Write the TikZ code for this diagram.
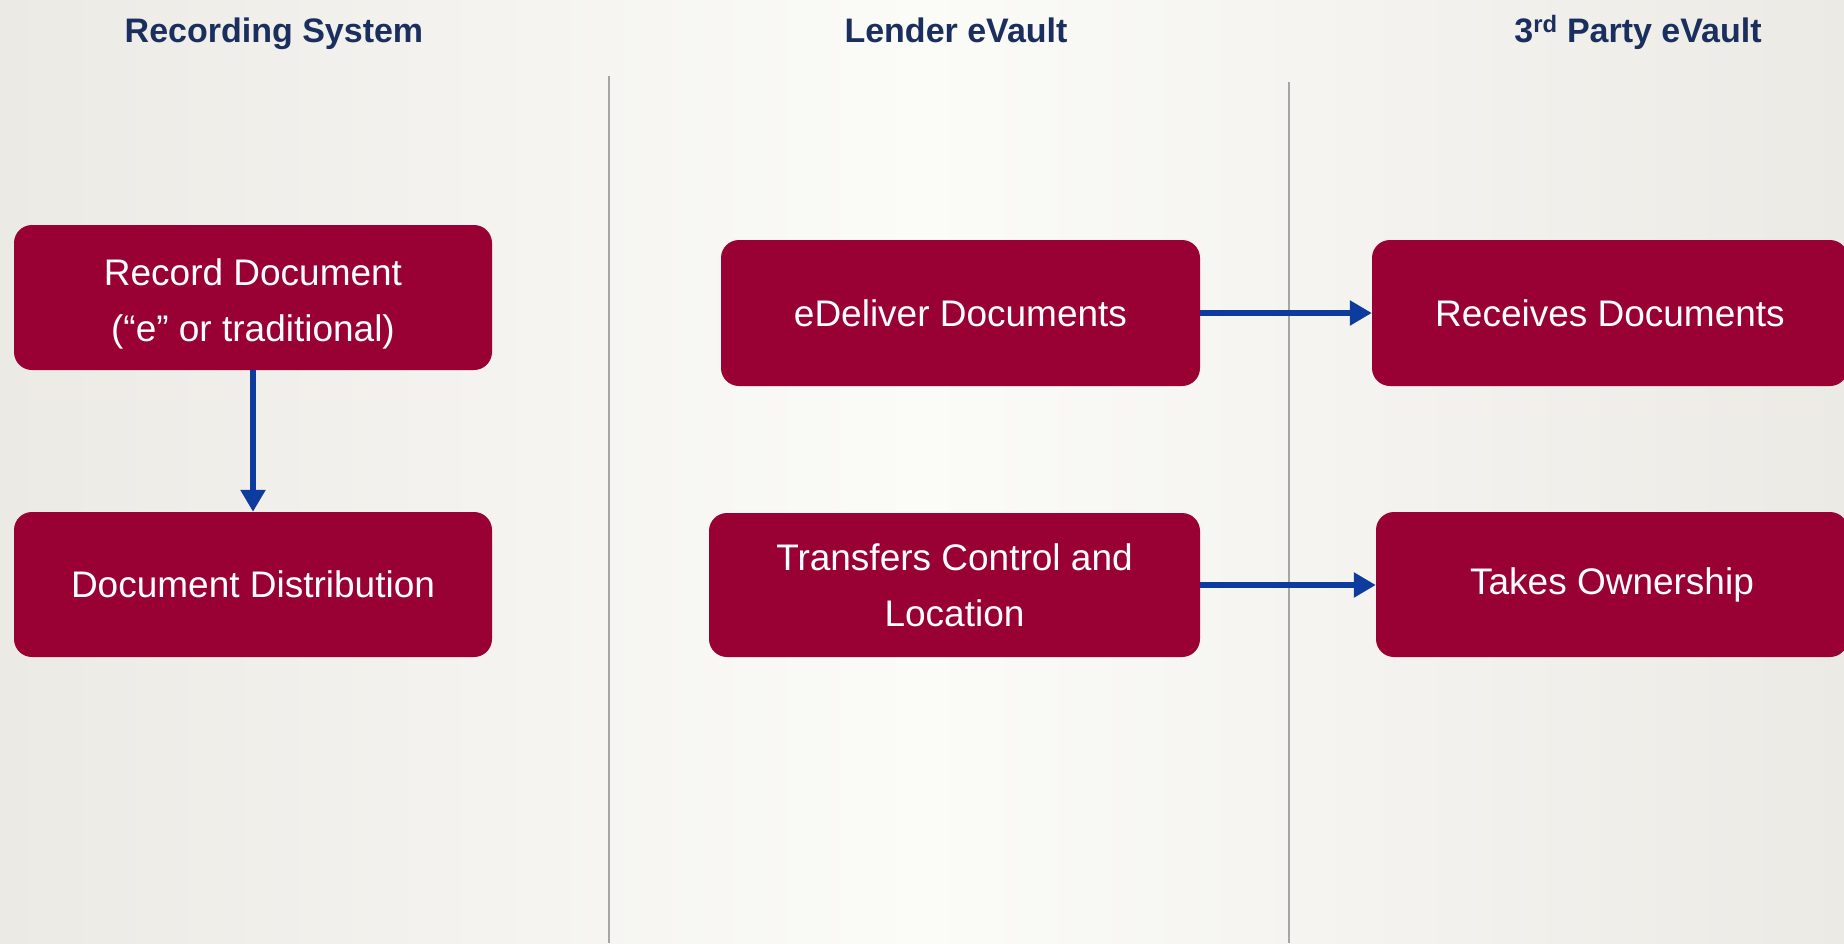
\documentclass[tikz,border=0pt]{standalone}
\usepackage{fontspec}
\setmainfont{Liberation Sans}
\usetikzlibrary{arrows.meta}
\definecolor{boxred}{HTML}{990033}
\definecolor{arrowblue}{HTML}{0D3C9E}
\definecolor{titlenavy}{HTML}{1B2F5E}
\definecolor{bgedge}{HTML}{ECEAE5}
\definecolor{bgmid}{HTML}{FBFBF8}
\definecolor{divider}{HTML}{A5A5A5}
\tikzset{
  procbox/.style={fill=boxred, rounded corners=18pt, text=white, align=center,
    font=\fontsize{37}{56}\selectfont, inner sep=0pt},
  lanetitle/.style={text=titlenavy, font=\fontsize{34}{40}\selectfont\bfseries, inner sep=0pt, anchor=base},
  flow/.style={draw=arrowblue, line width=6.5pt, -{Triangle[length=22pt,width=24pt]}},
  laneline/.style={draw=divider, line width=2pt}
}
\begin{document}
\begin{tikzpicture}[x=1pt,y=-1pt]
\useasboundingbox (0,0) rectangle (1844,943);
\clip (0,0) rectangle (1844,943);
\shade[left color=bgedge, right color=bgmid] (0,0) rectangle (922,943);
\shade[left color=bgmid, right color=bgedge] (922,0) rectangle (1844,943);

% lane titles
\node[lanetitle] (t1) at (274,42) {Recording System};
\node[lanetitle] (t2) at (956,42) {Lender eVault};
\node[lanetitle] (t3) at (1638,42) {3\textsuperscript{rd} Party eVault};

% dividers
\coordinate (l1top) at (609,76);
\coordinate (l1bot) at (609,943);
\coordinate (l2top) at (1289,82);
\coordinate (l2bot) at (1289,943);
\draw[laneline] (l1top) -- (l1bot);
\draw[laneline] (l2top) -- (l2bot);

% boxes
\node[procbox, minimum width=478pt, minimum height=145pt] (rec) at (253,297.5) {\rule{0pt}{40pt}Record Document\\(“e” or traditional)};
\node[procbox, minimum width=478pt, minimum height=145pt] (dist) at (253,584.5) {Document Distribution};
\node[procbox, minimum width=479pt, minimum height=146pt] (edel) at (960.5,313) {eDeliver Documents};
\node[procbox, minimum width=491pt, minimum height=144pt] (trans) at (954.5,585) {Transfers Control and\\Location};
\node[procbox, minimum width=476pt, minimum height=146pt] (recv) at (1610,313) {Receives Documents};
\node[procbox, minimum width=472pt, minimum height=145pt] (own) at (1612,584.5) {Takes Ownership};

% connectors
\draw[flow] (rec.south) -- (dist.north);
\draw[flow] (edel.east) -- (recv.west);
\draw[flow] (trans.east) -- (own.west |- trans.east);
\end{tikzpicture}
\end{document}
